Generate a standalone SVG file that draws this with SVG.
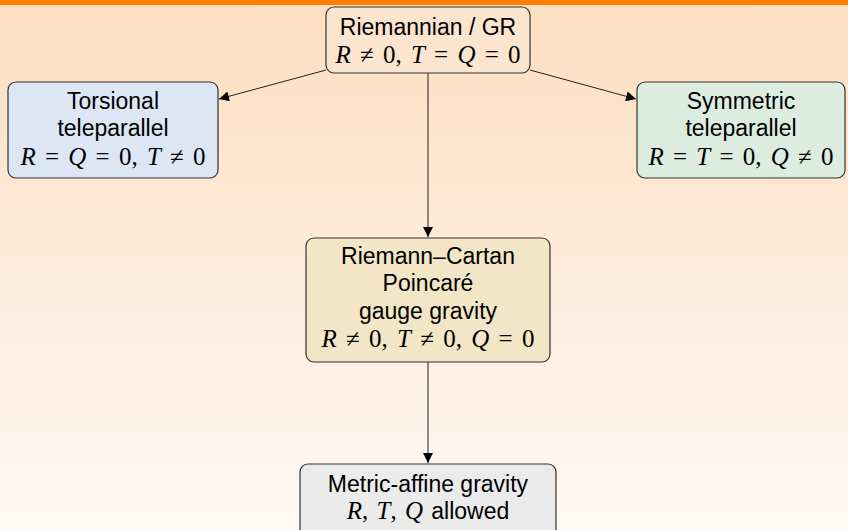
<svg xmlns="http://www.w3.org/2000/svg" width="848" height="530" viewBox="0 0 848 530">
<defs>
<linearGradient id="bg" x1="0" y1="0" x2="0" y2="1">
<stop offset="0" stop-color="#FDDEC0"/>
<stop offset="1" stop-color="#FFF9F4"/>
</linearGradient>
<marker id="arr" viewBox="0 0 10 10" refX="10" refY="5" markerWidth="11" markerHeight="10" markerUnits="userSpaceOnUse" orient="auto">
<path d="M0,0 L10,5 L0,10 Z" fill="#000"/>
</marker>
<style>
.box{stroke:#333;stroke-width:1.2}
.t{font-family:"Liberation Sans",Arial,sans-serif;font-size:23px;fill:#000;text-anchor:middle}
.m{font-family:"Liberation Serif","Times New Roman",serif;font-size:25px;fill:#000;text-anchor:middle;word-spacing:3px}
.i{font-style:italic}
.s{font-family:"Liberation Sans",Arial,sans-serif;font-size:23px}
.c{stroke:#222;stroke-width:1;fill:none;marker-end:url(#arr)}
</style>
</defs>
<rect x="0" y="0" width="848" height="530" fill="url(#bg)"/>
<rect x="0" y="0" width="848" height="5" fill="#FF8000"/>
<g id="connectors">
<line class="c" x1="326" y1="70" x2="219" y2="99"/>
<line class="c" x1="530" y1="70" x2="636" y2="99"/>
<line class="c" x1="428" y1="73" x2="428" y2="237"/>
<line class="c" x1="428" y1="362" x2="428" y2="463"/>
</g>
<g id="n-gr">
<rect class="box" x="326" y="7" width="204" height="66" rx="8" fill="#FBE5CF"/>
<text class="t" x="428" y="35">Riemannian / GR</text>
<text class="m" x="428" y="63"><tspan class="i">R</tspan> ≠ 0, <tspan class="i">T</tspan> = <tspan class="i">Q</tspan> = 0</text>
</g>
<g id="n-tors">
<rect class="box" x="8" y="82" width="210" height="96" rx="8" fill="#DCE6F4"/>
<text class="t" x="113" y="109">Torsional</text>
<text class="t" x="113" y="136">teleparallel</text>
<text class="m" x="113" y="165"><tspan class="i">R</tspan> = <tspan class="i">Q</tspan> = 0, <tspan class="i">T</tspan> ≠ 0</text>
</g>
<g id="n-sym">
<rect class="box" x="637" y="82" width="208" height="96" rx="8" fill="#DCEDE0"/>
<text class="t" x="741" y="109">Symmetric</text>
<text class="t" x="741" y="136">teleparallel</text>
<text class="m" x="741" y="165"><tspan class="i">R</tspan> = <tspan class="i">T</tspan> = 0, <tspan class="i">Q</tspan> ≠ 0</text>
</g>
<g id="n-rc">
<rect class="box" x="306" y="238" width="244" height="124" rx="8" fill="#F3E6C6"/>
<text class="t" x="428" y="264">Riemann–Cartan</text>
<text class="t" x="428" y="291">Poincaré</text>
<text class="t" x="428" y="319">gauge gravity</text>
<text class="m" x="428" y="347"><tspan class="i">R</tspan> ≠ 0, <tspan class="i">T</tspan> ≠ 0, <tspan class="i">Q</tspan> = 0</text>
</g>
<g id="n-mag">
<rect class="box" x="300" y="464" width="256" height="80" rx="8" fill="#EBEBEB"/>
<text class="t" x="428" y="492">Metric-affine gravity</text>
<text class="m" x="428" y="519" style="word-spacing:2px"><tspan class="i">R</tspan>, <tspan class="i">T</tspan>, <tspan class="i">Q</tspan> <tspan class="s">allowed</tspan></text>
</g>
</svg>
